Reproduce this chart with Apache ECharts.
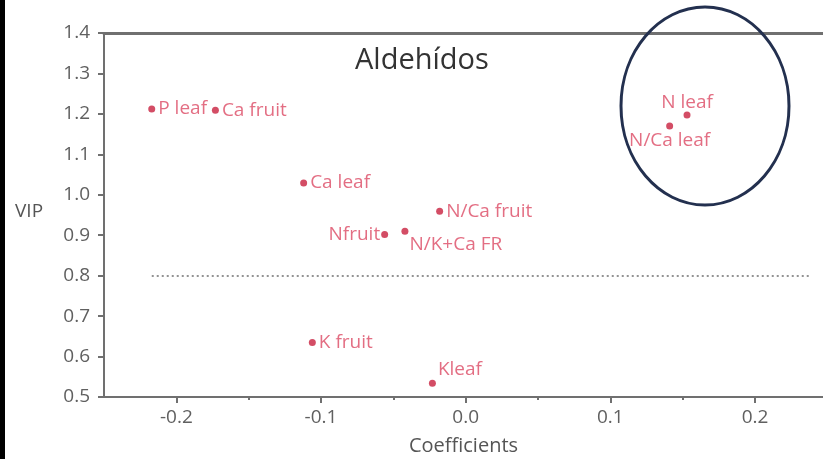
<!DOCTYPE html>
<html>
<head>
<meta charset="utf-8">
<script src="https://cdn.jsdelivr.net/npm/echarts@6/dist/echarts.min.js"></script>
<style>
  html, body { margin: 0; padding: 0; background: #fff; }
  #chart { width: 823px; height: 459px; }
</style>
</head>
<body>
<div id="chart"></div>
<script>
// variables (VIP vs coefficient)
const names  = ['P leaf', 'Ca fruit', 'Ca leaf', 'N/Ca fruit', 'Nfruit', 'N/K+Ca FR', 'K fruit', 'Kleaf', 'N leaf', 'N/Ca leaf'];
const coefs  = [-0.217, -0.173, -0.112, -0.018, -0.056, -0.042, -0.106, -0.023, 0.153, 0.141];
const vips   = [1.212, 1.209, 1.029, 0.959, 0.902, 0.910, 0.635, 0.534, 1.197, 1.170];
const xTicks = [-0.2, -0.1, 0.0, 0.1, 0.2];
const xMinor = [-0.15, -0.05, 0.05, 0.15];
const threshold = 0.8;
const thresholdSpan = [-0.217, 0.239];

// where each label sits around its dot
const labelPos = {
  'Nfruit':    { position: 'left', distance: 1 },
  'N/K+Ca FR': { position: 'right', distance: 1, offset: [0, 13] },
  'Kleaf':     { position: 'right', distance: 2, offset: [0, -14] },
  'N leaf':    { position: 'top', distance: 0 },
  'N/Ca leaf': { position: 'bottom', distance: 2 },
};

const chart = echarts.init(document.getElementById('chart'), null, { renderer: 'canvas' });

const grey = '#707070';
const font = '"Open Sans", "Noto Sans", sans-serif';

const points = names.map((n, i) => ({
  name: n,
  value: [coefs[i], vips[i]],
  label: Object.assign({ position: 'right', distance: 3 }, labelPos[n] || {}),
}));

chart.setOption({
  backgroundColor: '#fff',
  animation: false,
  grid: { left: 104, right: 0, top: 33, bottom: 62, containLabel: false, outerBoundsMode: 'none' },
  xAxis: [
    {
      type: 'value', min: -0.25, max: 0.247, position: 'bottom',
      axisLine: { show: true, onZero: false, lineStyle: { color: grey, width: 2 } },
      axisTick: { show: true, customValues: xTicks, length: 6, lineStyle: { color: grey, width: 2 } },
      axisLabel: {
        customValues: xTicks, margin: 11, color: '#606060', fontSize: 19, fontFamily: font,
        formatter: v => v.toFixed(1),
      },
      splitLine: { show: false },
      name: 'Coefficients', nameLocation: 'middle', nameGap: 39,
      nameTextStyle: { color: '#555', fontSize: 20, fontFamily: font },
    },
    {
      type: 'value', min: -0.25, max: 0.247, position: 'bottom', gridIndex: 0,
      axisLine: { show: false },
      axisTick: { show: true, customValues: xMinor, length: 3, lineStyle: { color: grey, width: 2 } },
      axisLabel: { show: false },
      splitLine: { show: false },
    },
    {
      type: 'value', min: -0.25, max: 0.247, position: 'top',
      axisLine: { show: true, onZero: false, lineStyle: { color: grey, width: 3 } },
      axisTick: { show: false }, axisLabel: { show: false }, splitLine: { show: false },
    },
  ],
  yAxis: {
    type: 'value', min: 0.5, max: 1.4, interval: 0.1,
    axisLine: { show: true, onZero: false, lineStyle: { color: grey, width: 2 } },
    axisTick: { show: true, length: 6, lineStyle: { color: grey, width: 2 } },
    axisLabel: { margin: 14, color: '#606060', fontSize: 19, fontFamily: font, formatter: v => v.toFixed(1) },
    splitLine: { show: false },
  },
  graphic: [
    { type: 'rect', left: 0, top: 0, shape: { width: 5, height: 459 }, style: { fill: '#000' } },
    { type: 'text', left: 15, top: 202, style: { text: 'VIP', fill: '#555', fontSize: 19, fontFamily: font } },
    { type: 'text', left: 355, top: 46, style: { text: 'Aldehídos', fill: '#333', fontSize: 29, fontFamily: font } },
    {
      type: 'ellipse', shape: { cx: 705, cy: 106, rx: 84, ry: 99 },
      style: { fill: 'none', stroke: '#23304f', lineWidth: 3 }, z: 10,
    },
  ],
  series: [{
    type: 'scatter',
    xAxisIndex: 0,
    symbolSize: 7,
    itemStyle: { color: '#c8203f' },
    label: {
      show: true, formatter: '{b}', color: '#dc4a64', fontSize: 19, fontFamily: font,
    },
    data: points,
    markLine: {
      silent: true, symbol: ['none', 'none'], label: { show: false },
      lineStyle: { color: '#707070', type: [2, 3], width: 1.5 },
      data: [[{ coord: [thresholdSpan[0], threshold] }, { coord: [thresholdSpan[1], threshold] }]],
    },
  }],
});
</script>
</body>
</html>
